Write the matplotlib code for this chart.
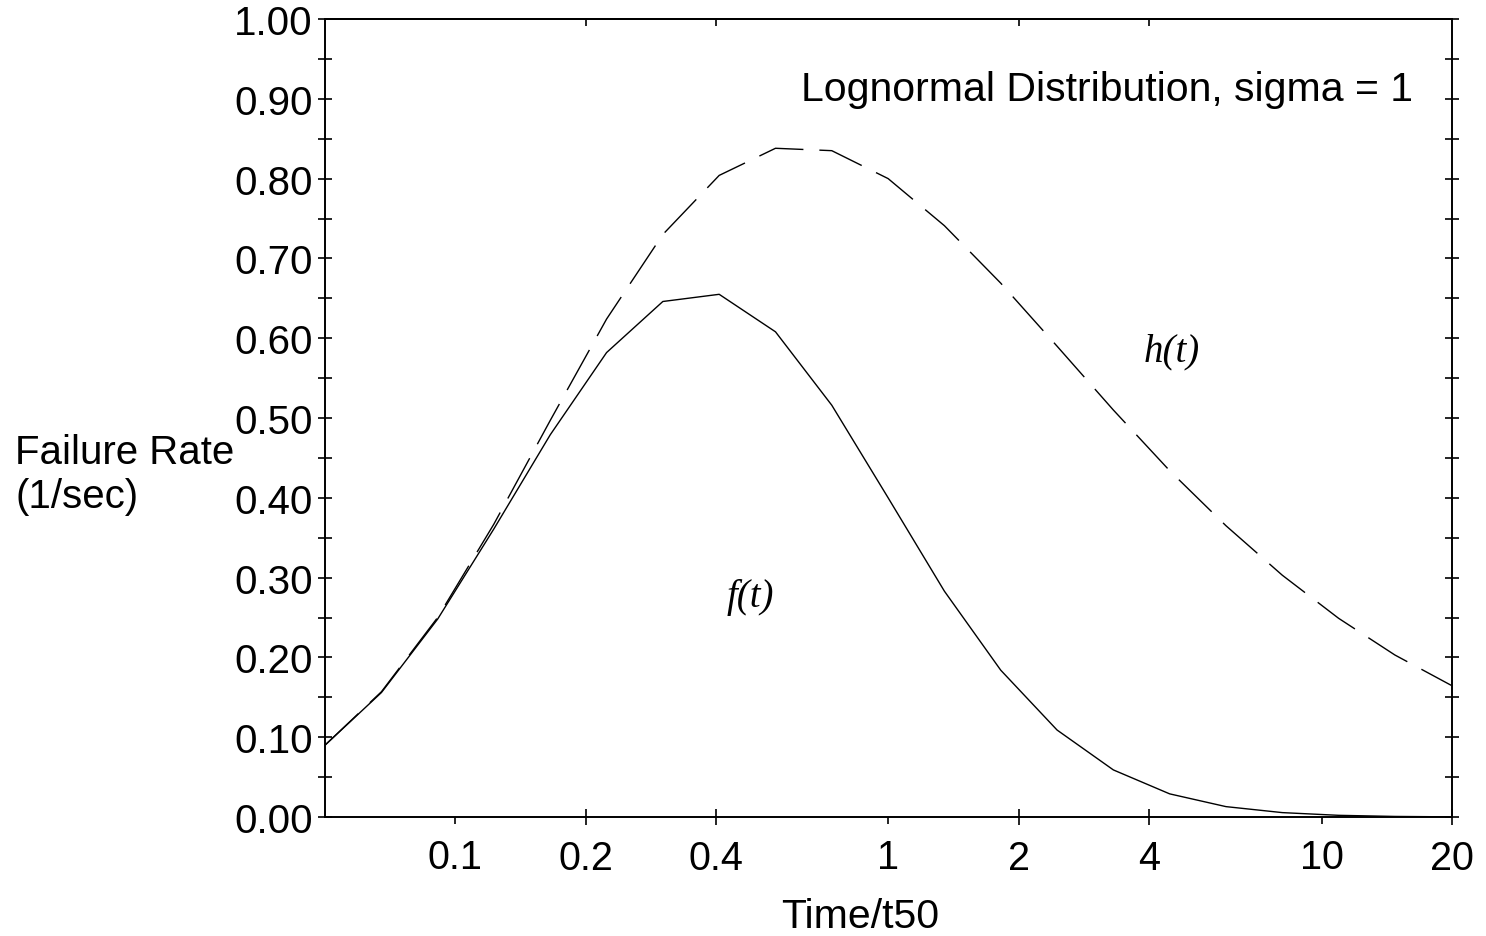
import matplotlib
matplotlib.use("Agg")
import matplotlib.pyplot as plt
from matplotlib.ticker import FixedLocator, FixedFormatter, NullFormatter

# time / t50 (log spaced points)
t_ratio = [0.05, 0.0675, 0.091, 0.1227, 0.1656, 0.2234, 0.3013, 0.4065,
           0.5484, 0.7397, 0.998, 1.346, 1.816, 2.45, 3.305, 4.458,
           6.014, 8.113, 10.945, 14.764, 19.917]

# f(t), solid curve
f_vals = [0.090, 0.156, 0.248, 0.361, 0.479, 0.582, 0.646, 0.655,
          0.608, 0.516, 0.400, 0.283, 0.184, 0.109, 0.059, 0.029,
          0.013, 0.0055, 0.0021, 0.0007, 0.0002]

# h(t), dashed curve
h_vals = [0.090, 0.157, 0.250, 0.367, 0.497, 0.624, 0.730, 0.804,
          0.838, 0.835, 0.800, 0.741, 0.669, 0.590, 0.510, 0.434,
          0.365, 0.303, 0.249, 0.203, 0.165]

x_major = [0.1, 1, 10]
x_minor = [0.2, 0.4, 2, 4, 20]
y_ticks = [i * 0.05 for i in range(21)]

plt.rcParams['font.family'] = ['Liberation Sans', 'DejaVu Sans']

fig = plt.figure(figsize=(14.86, 9.37), dpi=100)
ax = fig.add_axes([325 / 1486, 1 - 818 / 937, (1452 - 325) / 1486, (818 - 20) / 937])

ax.plot(t_ratio, f_vals, color='black', lw=1.0)
ax.plot(t_ratio, h_vals, color='black', lw=1.0, dashes=(33, 11.5))

ax.set_xscale('log')
ax.set_xlim(0.05, 20)
ax.set_ylim(0, 1.0)

for s in ax.spines.values():
    s.set_linewidth(1.4)

# x axis: decades outward, others crossing the axis
ax.xaxis.set_major_locator(FixedLocator(x_major))
ax.xaxis.set_major_formatter(FixedFormatter(['0.1', '1', '10']))
ax.xaxis.set_minor_locator(FixedLocator(x_minor))
ax.xaxis.set_minor_formatter(FixedFormatter(['0.2', '0.4', '2', '4', '20']))
ax.tick_params(axis='x', which='major', direction='out', length=5, width=1.2,
               labelsize=28.5, pad=10, top=False)
ax.tick_params(axis='x', which='minor', direction='inout', length=11.5, width=1.2,
               labelsize=28.5, pad=10, top=False)

top = ax.secondary_xaxis('top')
top.xaxis.set_major_locator(FixedLocator(x_minor[:-1]))
top.xaxis.set_minor_locator(FixedLocator([]))
top.xaxis.set_major_formatter(NullFormatter())
top.tick_params(direction='in', length=5, width=1.2)
top.spines['top'].set_linewidth(1.4)

# y axis: ticks every 0.05, labels every 0.10
ax.yaxis.set_major_locator(FixedLocator(y_ticks))
ax.yaxis.set_major_formatter(FixedFormatter(
    ['%.2f' % v if i % 2 == 0 else '' for i, v in enumerate(y_ticks)]))
ax.tick_params(axis='y', which='major', direction='inout', length=10, width=1.2,
               labelsize=29, pad=4, left=True, right=True)

fig.text(15 / 1486, 1 - 475 / 937, 'Failure Rate\n(1/sec)', ha='left', va='center',
         fontsize=29)
fig.text(860 / 1486, 1 - 917 / 937, 'Time/t50', ha='center', va='center', fontsize=29.5)
fig.text(1413 / 1486, 1 - 90 / 937, 'Lognormal Distribution, sigma = 1',
         ha='right', va='center', fontsize=29.5)

ax.text(4.5, 0.584, 'h(t)', ha='center', va='center', fontsize=28,
        family='Liberation Serif', style='italic')
ax.text(0.479, 0.276, 'f(t)', ha='center', va='center', fontsize=28,
        family='Liberation Serif', style='italic')

fig.savefig('out.png', dpi=100)
